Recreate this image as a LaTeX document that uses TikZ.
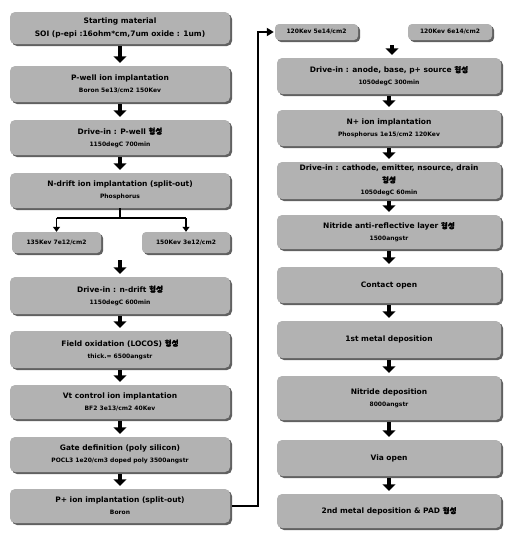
\documentclass[tikz,border=0pt]{standalone}
\usepackage{fontspec}
\setmainfont{DejaVu Sans}
\newfontfamily\kr[FakeBold=1.5]{Noto Sans CJK KR}
\usetikzlibrary{arrows.meta,shadows,calc}
\definecolor{boxgray}{gray}{0.70}
\definecolor{shadowgray}{gray}{0.38}
\newcommand{\hs}{{\kr 형성}}
\newcommand{\ta}{\fontsize{7.5}{8.8}\selectfont\bfseries}
\newcommand{\tb}{\fontsize{6}{7.2}\selectfont\bfseries}
\tikzset{
  procbox/.style={fill=boxgray, rounded corners=5pt, inner sep=0pt, align=center,
    drop shadow={shadow xshift=2pt, shadow yshift=-2pt, fill=shadowgray, opacity=1}},
  lbox/.style={procbox, minimum width=220pt},
  rbox/.style={procbox, minimum width=224pt},
  sbox/.style={procbox, rounded corners=4pt},
  bigarrow/.style={line width=4pt, -{Triangle[width=13pt,length=6.5pt]}, shorten <=2pt, shorten >=3pt},
  thinarrow/.style={line width=1.6pt, -{Triangle[width=7pt,length=5pt]}},
  thinline/.style={line width=1.6pt},
}
\begin{document}
\begin{tikzpicture}[x=1pt,y=-1pt]
\useasboundingbox (0,0) rectangle (504,533);
% left column
\node[lbox, minimum height=32pt] (L1) at (120,28) {\ta Starting material\\[1pt]\ta SOI (p-epi :16ohm*cm,7um oxide : 1um)};
\node[lbox, minimum height=36pt] (L2) at (120,84) {\ta P-well ion implantation\\\tb Boron 5e13/cm2 150Kev};
\node[lbox, minimum height=35pt] (L3) at (120,137.5) {\ta Drive-in : P-well \hs\\\tb 1150degC 700min};
\node[lbox, minimum height=35pt] (L4) at (120,190.5) {\ta N-drift ion implantation (split-out)\\\tb Phosphorus};
\node[sbox, minimum width=89pt, minimum height=21pt] (S1) at (56.5,242.5) {\tb 135Kev 7e12/cm2};
\node[sbox, minimum width=88pt, minimum height=21pt] (S2) at (186,242.5) {\tb 150Kev 3e12/cm2};
\node[lbox, minimum height=37pt] (L5) at (120,295.5) {\ta Drive-in : n-drift \hs\\\tb 1150degC 600min};
\node[lbox, minimum height=37pt] (L6) at (120,349.5) {\ta Field oxidation (LOCOS) \hs\\\tb thick.= 6500angstr};
\node[lbox, minimum height=34pt] (L7) at (120,402) {\ta Vt control ion implantation\\\tb BF2 3e13/cm2 40Kev};
\node[lbox, minimum height=35pt] (L8) at (120,454.5) {\ta Gate definition (poly silicon)\\\tb POCL3 1e20/cm3 doped poly 3500angstr};
\node[lbox, minimum height=34pt] (L9) at (120,506) {\ta P+ ion implantation (split-out)\\\tb Boron};
% right column
\node[sbox, minimum width=83pt, minimum height=16pt] (RS1) at (316.5,32) {\tb 120Kev 5e14/cm2};
\node[sbox, minimum width=84pt, minimum height=16pt] (RS2) at (450,32) {\tb 120Kev 6e14/cm2};
\node[rbox, minimum height=36pt] (R1) at (389,76) {\ta Drive-in : anode, base, p+ source \hs\\\tb 1050degC 300min};
\node[rbox, minimum height=36pt] (R2) at (389,128) {\ta N+ ion implantation\\\tb Phosphorus 1e15/cm2 120Kev};
\node[rbox, minimum height=37pt] (R3) at (389,180.5) {\ta Drive-in : cathode, emitter, nsource, drain\\\ta \hs\\\tb 1050degC 60min};
\node[rbox, minimum height=34pt] (R4) at (389,232) {\ta Nitride anti-reflective layer \hs\\\tb 1500angstr};
\node[rbox, minimum height=36pt] (R5) at (389,285) {\ta Contact open};
\node[rbox, minimum height=37pt] (R6) at (389,339.5) {\ta 1st metal deposition};
\node[rbox, minimum height=44pt] (R7) at (389,398) {\ta Nitride deposition\\\tb 8000angstr};
\node[rbox, minimum height=36pt] (R8) at (389,458) {\ta Via open};
\node[rbox, minimum height=34pt] (R9) at (389,511) {\ta 2nd metal deposition \& PAD \hs};
% arrows left
\draw[bigarrow] (L1) -- (L2);
\draw[bigarrow] (L2) -- (L3);
\draw[bigarrow] (L3) -- (L4);
\coordinate (split) at (120,218);
\coordinate (midS) at (120,258);
\draw[thinline] (L4.south) -- (split);
\draw[thinline] (S1.north |- split) -- (S2.north |- split);
\draw[thinarrow] (S1.north |- split) -- (S1.north);
\draw[thinarrow] (S2.north |- split) -- (S2.north);
\draw[bigarrow] (midS) -- (L5.north);
\draw[bigarrow] (L5) -- (L6);
\draw[bigarrow] (L6) -- (L7);
\draw[bigarrow] (L7) -- (L8);
\draw[bigarrow] (L8) -- (L9);
% connector to right column
\coordinate (bend) at (258,0);
\draw[line width=2pt, -{Triangle[width=8pt,length=7pt]}] ($(L9.east)+(2,0)$) -- (L9.east -| bend) |- ($(RS1.west)+(-1,0)$);
% arrows right
\coordinate (midR) at (392,43);
\draw[bigarrow] (midR) -- (R1.north -| midR);
\draw[bigarrow] (R1) -- (R2);
\draw[bigarrow] (R2) -- (R3);
\draw[bigarrow] (R3) -- (R4);
\draw[bigarrow] (R4) -- (R5);
\draw[bigarrow] (R5) -- (R6);
\draw[bigarrow] (R6) -- (R7);
\draw[bigarrow] (R7) -- (R8);
\draw[bigarrow] (R8) -- (R9);
\end{tikzpicture}
\end{document}
